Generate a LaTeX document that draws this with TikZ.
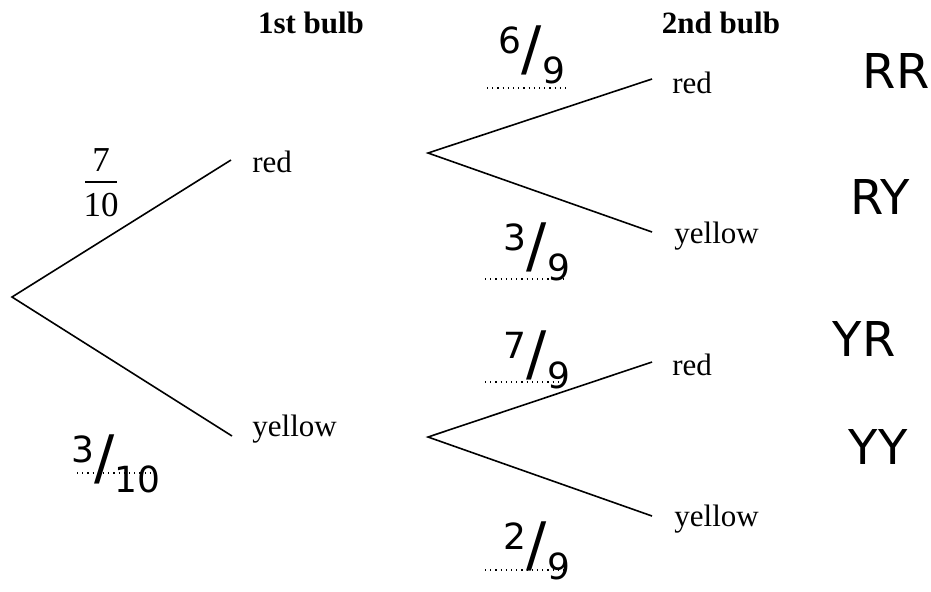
\documentclass[tikz,border=0pt]{standalone}
\usepackage{fontspec}
\setmainfont{Liberation Serif}
\newfontfamily\hand{DejaVu Sans}
\newcommand{\hwfrac}[2]{{\hand\fontsize{18}{20}\selectfont\raisebox{0.45em}{#1}{\fontsize{30}{32}\selectfont/}\raisebox{-0.4em}{#2}}}
\begin{document}
\begin{tikzpicture}[x=0.5pt,y=-0.5pt,
  lbl/.style={font=\fontsize{15.5}{18}\selectfont, anchor=base west, inner sep=0},
  head/.style={font=\fontsize{15.5}{18}\selectfont\bfseries, anchor=base, inner sep=0},
  num/.style={font=\fontsize{17.5}{20}\selectfont, inner sep=0},
  hw/.style={inner sep=0},
  pair/.style={font=\hand\fontsize{24}{26}\selectfont, inner sep=0},
  dotline/.style={dotted, line width=0.6pt},
  br/.style={line width=0.8pt}]
\useasboundingbox (0,0) rectangle (931,591);
% headings
\node[head] (h1) at (311,33) {1st bulb};
\node[head] (h2) at (721,33) {2nd bulb};
% tree points
\coordinate (root) at (12,297);
\coordinate (e1r) at (231,160);
\coordinate (e1y) at (232,436);
\coordinate (b1r) at (428,153);
\coordinate (b1y) at (428,437);
\coordinate (e2rr) at (652,79);
\coordinate (e2ry) at (652,232);
\coordinate (e2yr) at (652,362);
\coordinate (e2yy) at (652,516);
\draw[br] (e1r) -- (root) -- (e1y);
\draw[br] (e2rr) -- (b1r) -- (e2ry);
\draw[br] (e2yr) -- (b1y) -- (e2yy);
% outcome labels
\node[lbl] (l1r) at (252,172) {red};
\node[lbl] (l1y) at (252,436) {yellow};
\node[lbl] (l2rr) at (672,93) {red};
\node[lbl] (l2ry) at (674,243) {yellow};
\node[lbl] (l2yr) at (672,375) {red};
\node[lbl] (l2yy) at (674,526) {yellow};
% printed fraction
\node[num] (n7) at (101,160) {7};
\draw[line width=0.6pt] (85,182) -- (117,182);
\node[num] (n10) at (101,205) {10};
% handwritten probabilities with dotted answer lines
\node[hw] (p1) at (532,55) {\hwfrac{6}{9}};
\draw[dotline] (487,88) -- (567,88);
\node[hw] (p2) at (537,252) {\hwfrac{3}{9}};
\draw[dotline] (485,279) -- (567,279);
\node[hw] (p3) at (537,360) {\hwfrac{7}{9}};
\draw[dotline] (485,382) -- (565,382);
\node[hw] (p4) at (537,551) {\hwfrac{2}{9}};
\draw[dotline] (485,570) -- (567,570);
\node[hw] (p5) at (116,464) {\hwfrac{3}{10}};
\draw[dotline] (77,473) -- (157,473);
% outcome pairs
\node[pair] (o1) at (896,71) {RR};
\node[pair] (o2) at (880,197) {RY};
\node[pair] (o3) at (864,339) {YR};
\node[pair] (o4) at (878,447) {YY};
\end{tikzpicture}
\end{document}
